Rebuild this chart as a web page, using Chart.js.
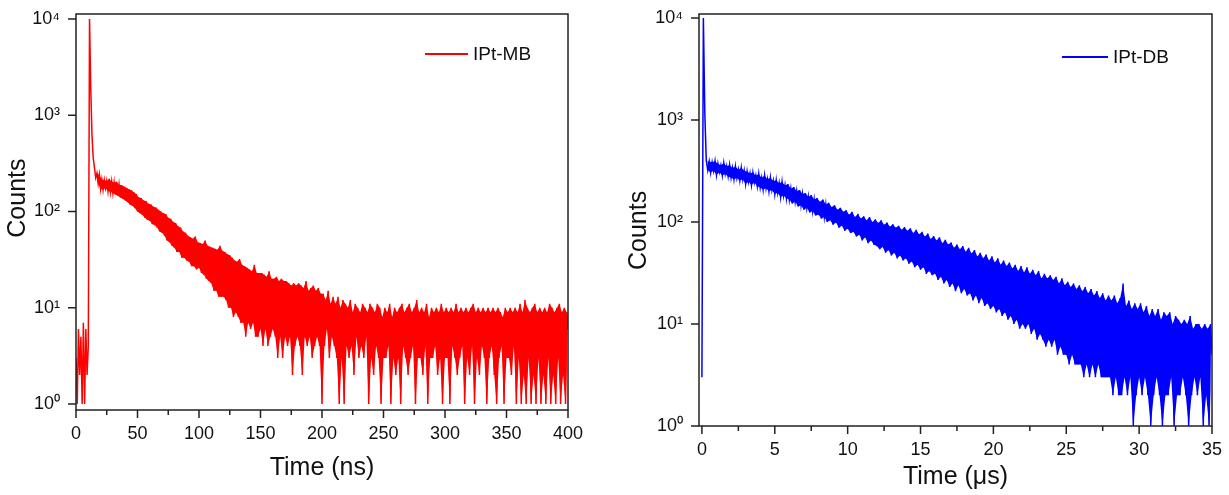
<!DOCTYPE html>
<html>
<head>
<meta charset="utf-8">
<script src="https://cdn.jsdelivr.net/npm/chart.js@4"></script>
<style>
  body { margin: 0; background: #fff; }
  .panel { position: absolute; top: 0; }
</style>
</head>
<body>
<div class="panel" style="left:0px"><canvas id="chartMB" width="600" height="495"></canvas></div>
<div class="panel" style="left:614px"><canvas id="chartDB" width="615" height="495"></canvas></div>
<script>
// IPt-MB : counts per 1 ns channel, 0 - 400 ns
const mbStep = 1;
const mbCounts = [
  3, 1, 6, 2, 5, 1, 7, 1, 6, 2,
  4, 10000, 1900, 620, 360, 285, 225, 250, 195, 240,
  172, 215, 168, 212, 175, 208, 162, 218, 160, 205,
  155, 200, 150, 204, 146, 190, 140, 188, 136, 182,
  130, 176, 125, 170, 118, 166, 114, 158, 108, 152,
  100, 140, 96, 138, 92, 130, 86, 128, 82, 120,
  80, 118, 74, 112, 72, 110, 68, 104, 62, 100,
  60, 96, 56, 94, 50, 86, 48, 84, 44, 78,
  42, 76, 38, 70, 38, 68, 33, 62, 33, 60,
  31, 56, 30, 54, 27, 52, 27, 55, 25, 48,
  26, 47, 23, 46, 22, 50, 20, 44, 19, 43,
  18, 42, 15, 41, 15, 40, 13, 44, 13, 39,
  13, 38, 12, 36, 10, 35, 10, 33, 8, 31,
  9, 30, 8, 32, 7, 28, 7, 27, 5, 26,
  7, 25, 6, 24, 7, 28, 5, 23, 5, 23,
  6, 23, 4, 22, 6, 21, 4, 24, 5, 20,
  6, 20, 5, 21, 3, 19, 5, 20, 3, 19,
  5, 19, 4, 18, 5, 17, 2, 18, 4, 17,
  5, 18, 4, 17, 2, 16, 5, 19, 4, 15,
  5, 16, 3, 17, 4, 15, 5, 16, 4, 14,
  1, 14, 4, 12, 6, 15, 3, 11, 5, 13,
  4, 11, 3, 13, 1, 10, 3, 12, 1, 11,
  4, 10, 3, 12, 4, 9, 2, 11, 5, 10,
  3, 9, 4, 11, 3, 10, 5, 9, 1, 11,
  3, 10, 2, 9, 4, 11, 3, 10, 1, 8,
  3, 10, 3, 9, 4, 11, 1, 8, 3, 10,
  2, 9, 3, 10, 1, 11, 4, 9, 3, 10,
  2, 11, 3, 9, 4, 10, 1, 12, 3, 9,
  3, 10, 2, 9, 4, 11, 1, 8, 3, 10,
  3, 9, 4, 10, 2, 9, 3, 11, 1, 9,
  3, 10, 3, 9, 1, 10, 4, 9, 3, 11,
  2, 9, 3, 10, 4, 9, 1, 10, 3, 9,
  2, 10, 4, 11, 1, 9, 3, 10, 2, 9,
  4, 10, 3, 9, 1, 10, 3, 9, 4, 10,
  2, 9, 1, 10, 3, 9, 4, 8, 1, 10,
  3, 9, 3, 10, 2, 9, 4, 10, 1, 9,
  3, 11, 1, 9, 2, 12, 1, 10, 3, 9,
  1, 10, 2, 11, 1, 9, 3, 10, 1, 9,
  2, 10, 1, 9, 3, 11, 1, 10, 2, 9,
  1, 10, 3, 11, 1, 9, 2, 10, 1, 9,
  6
];
const mbBandStart = 16;

// IPt-DB : counts per 0.1 us channel, 0 - 35 us
const dbStep = 0.1;
const dbCounts = [
  3, 10000, 1150, 399, 322, 392, 305, 385, 318, 395,
  290, 372, 308, 360, 286, 378, 296, 352, 280, 362,
  272, 338, 262, 350, 270, 326, 255, 340, 262, 318,
  236, 312, 248, 300, 230, 305, 244, 286, 224, 296,
  218, 270, 208, 285, 214, 262, 200, 272, 206, 252,
  188, 256, 194, 240, 176, 246, 182, 228, 170, 236,
  166, 212, 152, 220, 158, 200, 142, 206, 146, 188,
  132, 192, 138, 176, 124, 184, 128, 166, 116, 172,
  118, 158, 108, 166, 112, 148, 100, 154, 104, 140,
  94, 146, 99, 132, 88, 138, 92, 126, 82, 130,
  86, 118, 78, 126, 80, 112, 72, 120, 75, 108,
  66, 114, 71, 104, 62, 112, 66, 100, 60, 106,
  58, 98, 54, 104, 57, 94, 50, 99, 53, 90,
  47, 95, 50, 88, 44, 92, 47, 84, 42, 89,
  44, 82, 39, 87, 41, 78, 36, 84, 38, 76,
  34, 80, 36, 72, 31, 77, 33, 68, 30, 73,
  31, 66, 27, 71, 29, 62, 25, 67, 27, 60,
  23, 63, 25, 56, 21, 60, 24, 54, 20, 58,
  22, 51, 19, 56, 20, 49, 17, 53, 19, 46,
  16, 50, 18, 44, 15, 48, 16, 42, 14, 46,
  15, 40, 13, 44, 14, 38, 12, 42, 13, 37,
  11, 40, 12, 35, 10, 38, 11, 33, 9, 37,
  10, 32, 9, 36, 10, 31, 8, 34, 9, 30,
  7, 33, 8, 28, 7, 31, 6, 28, 7, 30,
  6, 27, 7, 29, 5, 25, 6, 28, 5, 24,
  5, 26, 4, 23, 5, 25, 4, 22, 4, 24,
  4, 21, 3, 23, 4, 20, 3, 22, 4, 19,
  3, 21, 4, 18, 3, 20, 3, 17, 3, 19,
  3, 17, 2, 19, 3, 16, 2, 18, 2, 25,
  3, 15, 2, 17, 3, 14, 1, 16, 2, 14,
  3, 16, 2, 13, 3, 15, 2, 12, 1, 14,
  2, 12, 3, 14, 2, 11, 1, 13, 2, 12,
  2, 13, 3, 10, 1, 12, 2, 11, 2, 10,
  3, 11, 2, 10, 1, 12, 2, 9, 3, 10,
  2, 10, 3, 9, 1, 10, 2, 9, 1, 10,
  5
];
const dbBandStart = 3;

const mbTimeTicks = [0, 50, 100, 150, 200, 250, 300, 350, 400];
const dbTimeTicks = [0, 5, 10, 15, 20, 25, 30, 35];
const countTicks = [1, 10, 100, 1000, 10000];

Chart.defaults.font.family = "'Liberation Sans', Arial, sans-serif";
Chart.defaults.color = '#111';

const sup = ['⁰', '¹', '²', '³', '⁴'];
function powerLabel(v) {
  return '10' + sup[Math.round(Math.log10(v))];
}

// every other channel, so the noise band between low and high channels can be filled
function bandPoints(counts, step, start, parity) {
  const pts = [];
  for (let i = start; i < counts.length; i++) {
    if (i % 2 === parity) pts.push({x: i * step, y: counts[i]});
  }
  return pts;
}

// box around the plot, tick marks (minor ones half way) and the legend line
const frameAndLegend = {
  id: 'frameAndLegend',
  afterDraw(chart, args, opts) {
    const ctx = chart.ctx;
    const a = chart.chartArea;
    const x = chart.scales.x, y = chart.scales.y;
    ctx.save();
    ctx.strokeStyle = '#222';
    ctx.lineWidth = 1.5;
    ctx.strokeRect(a.left, a.top, a.right - a.left, a.bottom - a.top);
    ctx.beginPath();
    x.ticks.forEach(function(t, i) {
      const px = x.getPixelForValue(t.value);
      ctx.moveTo(px, a.bottom);
      ctx.lineTo(px, a.bottom + 8);
      if (i < x.ticks.length - 1) {
        const mid = x.getPixelForValue((t.value + x.ticks[i + 1].value) / 2);
        ctx.moveTo(mid, a.bottom);
        ctx.lineTo(mid, a.bottom + 5);
      }
    });
    y.ticks.forEach(function(t) {
      const py = y.getPixelForValue(t.value);
      ctx.moveTo(a.left - 8, py);
      ctx.lineTo(a.left, py);
    });
    ctx.stroke();

    const ds = chart.data.datasets[0];
    const lx = a.right - opts.fromRight;
    const ly = a.top + opts.fromTop;
    ctx.strokeStyle = ds.borderColor;
    ctx.lineWidth = 2;
    ctx.beginPath();
    ctx.moveTo(lx, ly);
    ctx.lineTo(lx + opts.lineLen, ly);
    ctx.stroke();
    ctx.fillStyle = '#111';
    ctx.font = "19px 'Liberation Sans', Arial, sans-serif";
    ctx.textBaseline = 'middle';
    ctx.fillText(ds.label, lx + opts.lineLen + 5, ly + 1);
    ctx.restore();
  }
};

function makeConfig(label, color, counts, step, bandStart, timeTicks, xMin, xMax, yMin, yMax, xTitle, yTitle, sizes) {
  return {
    type: 'line',
    data: {
      datasets: [{
        label: label,
        borderColor: color,
        backgroundColor: color,
        borderWidth: 1.5,
        pointRadius: 0,
        tension: 0,
        data: counts.map(function(c, i) { return {x: i * step, y: c}; })
      }, {
        label: label + ' low',
        borderWidth: 0,
        pointRadius: 0,
        fill: false,
        data: bandPoints(counts, step, bandStart, 0)
      }, {
        label: label + ' high',
        borderWidth: 0,
        pointRadius: 0,
        backgroundColor: color,
        fill: '-1',
        data: bandPoints(counts, step, bandStart, 1)
      }]
    },
    options: {
      responsive: false,
      animation: false,
      layout: { padding: { left: 0, top: 14, right: sizes.right, bottom: 0 } },
      plugins: {
        legend: { display: false },
        tooltip: { enabled: false },
        frameAndLegend: sizes.legend
      },
      scales: {
        x: {
          type: 'linear',
          min: xMin,
          max: xMax,
          afterBuildTicks: function(s) { s.ticks = timeTicks.map(function(v) { return {value: v}; }); },
          afterFit: function(s) { s.height = sizes.xHeight; s.paddingLeft = 0; s.paddingRight = 0; },
          grid: { display: false, drawTicks: false },
          border: { display: false },
          ticks: { font: { size: 18 }, padding: 13, autoSkip: false, maxRotation: 0 },
          title: { display: true, text: xTitle, font: { size: 25 }, padding: { top: 0, bottom: sizes.xTitlePad } }
        },
        y: {
          type: 'logarithmic',
          min: yMin,
          max: yMax,
          afterBuildTicks: function(s) { s.ticks = countTicks.map(function(v) { return {value: v}; }); },
          afterFit: function(s) { s.width = sizes.yWidth; s.paddingTop = 0; s.paddingBottom = 0; },
          grid: { display: false, drawTicks: false },
          border: { display: false },
          ticks: { font: { size: 18 }, padding: 16, callback: powerLabel },
          title: { display: true, text: yTitle, font: { size: 25 }, padding: { top: sizes.yTitlePad, bottom: 0 } }
        }
      }
    },
    plugins: [frameAndLegend]
  };
}

const chartMB = new Chart(
  document.getElementById('chartMB'),
  makeConfig('IPt-MB', '#ff0000', mbCounts, mbStep, mbBandStart, mbTimeTicks, 0, 400, 0.866, 11270,
    'Time (ns)', '    Counts',
    { right: 32, xHeight: 85, yWidth: 76, xTitlePad: 12, yTitlePad: 3,
      legend: { fromRight: 143, fromTop: 40, lineLen: 43 } })
);

const chartDB = new Chart(
  document.getElementById('chartDB'),
  makeConfig('IPt-DB', '#0000ff', dbCounts, dbStep, dbBandStart, dbTimeTicks, -0.2, 35, 1, 10940,
    'Time (μs)', 'Counts   ',
    { right: 17, xHeight: 69, yWidth: 85, xTitlePad: 3, yTitlePad: 10,
      legend: { fromRight: 150, fromTop: 43, lineLen: 46 } })
);
</script>
</body>
</html>
